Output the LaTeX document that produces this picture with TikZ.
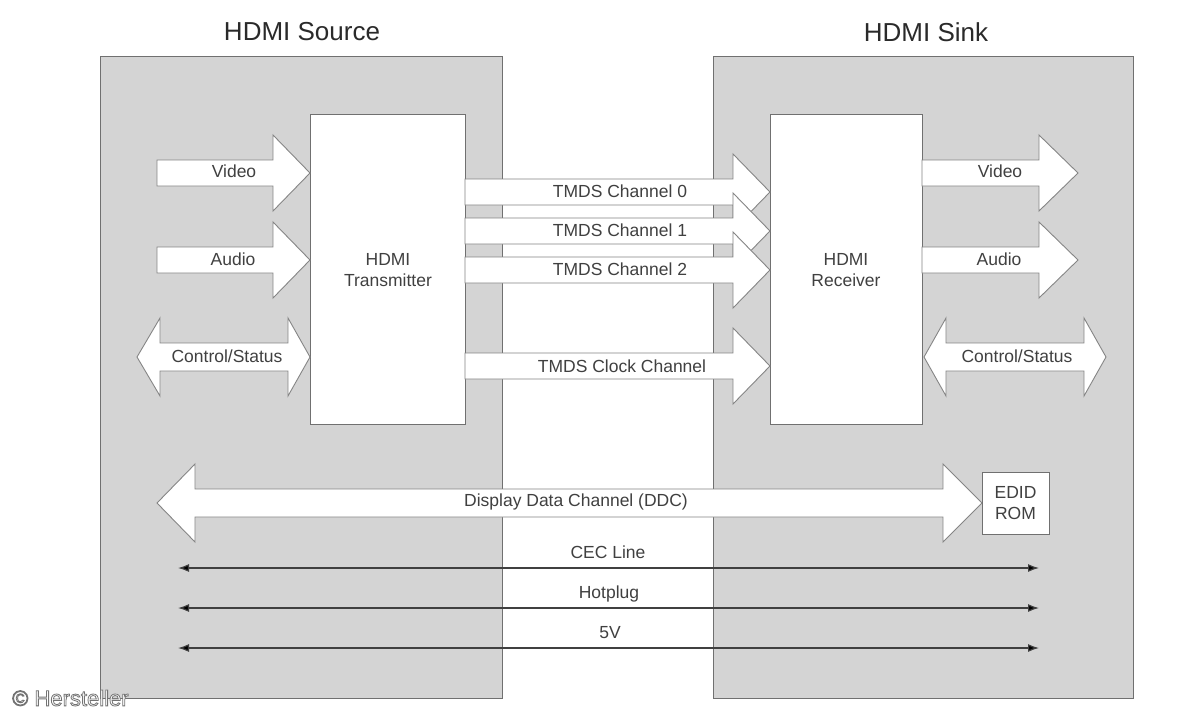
\documentclass[tikz,border=0pt]{standalone}
\usepackage{fontspec}
\setmainfont{Liberation Sans}
\usetikzlibrary{arrows.meta}
\definecolor{panel}{HTML}{D4D4D4}
\definecolor{edge}{HTML}{707070}
\definecolor{arredge}{HTML}{858585}
\definecolor{txt}{HTML}{404040}
\definecolor{ttl}{HTML}{2A2A2A}
\newcommand{\rfat}[4]{\draw[fat] (#1,#4-13) -- (#2,#4-13) -- (#2,#4-38) -- (#3,#4) -- (#2,#4+38) -- (#2,#4+13) -- (#1,#4+13) -- cycle;}
\newcommand{\dfat}[5]{\draw[fat] (#1,#5) -- (#2,#5-39) -- (#2,#5-14) -- (#3,#5-14) -- (#3,#5-39) -- (#4,#5) -- (#3,#5+39) -- (#3,#5+14) -- (#2,#5+14) -- (#2,#5+39) -- cycle;}
\begin{document}
\begin{tikzpicture}[x=1pt,y=-1pt,
  panelbox/.style={draw=edge,fill=panel,line width=1pt},
  chip/.style={draw=edge,fill=white,line width=1pt},
  fat/.style={draw=arredge,fill=white,line width=0.9pt,line join=miter},
  lbl/.style={text=txt,font=\fontsize{17.5}{17.5}\selectfont,inner sep=0pt,anchor=center},
  ttlf/.style={text=ttl,font=\fontsize{26}{26}\selectfont,inner sep=0pt},
  wmf/.style={font=\fontsize{22}{22}\selectfont,inner sep=0pt,anchor=west},
  thin/.style={draw=black!75,line width=1.2pt,{Latex[length=11pt,width=8pt,fill=black]}-{Latex[length=11pt,width=8pt,fill=black]}}]
\useasboundingbox (0,0) rectangle (1200,720);
\fill[white] (0,0) rectangle (1200,720);
% panels
\draw[panelbox] (100,56) rectangle (502,698);
\draw[panelbox] (713,56) rectangle (1133,698);
\node[ttlf] (tsrc) at (302,32) {HDMI Source};
\node[ttlf] (tsnk) at (926,32) {HDMI Sink};
% chips
\draw[chip] (310,114) rectangle (465,424);
\draw[chip] (770,114) rectangle (922,424);
\node[lbl,align=center] (tx) at (388,270) {HDMI\\[4pt]Transmitter};
\node[lbl,align=center] (rx) at (846,270) {HDMI\\[4pt]Receiver};
% left inputs
\rfat{157}{273}{310}{173}
\rfat{157}{273}{310}{260}
\dfat{137}{160}{288}{310}{357}
\node[lbl] (lv) at (234,171) {Video};
\node[lbl] (la) at (233,259) {Audio};
\node[lbl] (lc) at (227,356) {Control/Status};
% right outputs
\rfat{922}{1039}{1078}{173}
\rfat{922}{1039}{1078}{260}
\dfat{924}{946}{1084}{1106}{357}
\node[lbl] (rv) at (1000,171) {Video};
\node[lbl] (ra) at (999,259) {Audio};
\node[lbl] (rc) at (1017,356) {Control/Status};
% TMDS channels
\rfat{465}{733}{770}{192}
\node[lbl] (c0) at (620,191) {TMDS Channel 0};
\rfat{465}{733}{770}{231}
\node[lbl] (c1) at (620,230) {TMDS Channel 1};
\rfat{465}{733}{770}{270}
\node[lbl] (c2) at (620,269) {TMDS Channel 2};
\rfat{465}{733}{770}{366}
\node[lbl] (ck) at (622,366) {TMDS Clock Channel};
% DDC
\dfat{157}{195}{943}{982}{503}
\node[lbl] (ddc) at (576,502) {Display Data Channel (DDC)};
\draw[chip] (982,472) rectangle (1049,534);
\node[lbl,align=center] (edid) at (1015.5,503) {EDID\\[4pt]ROM};
% thin lines
\coordinate (l1) at (178,568); \coordinate (r1) at (1039,568);
\coordinate (l2) at (178,608); \coordinate (r2) at (1039,608);
\coordinate (l3) at (178,648); \coordinate (r3) at (1039,648);
\draw[thin] (l1) -- (r1);
\draw[thin] (l2) -- (r2);
\draw[thin] (l3) -- (r3);
\node[lbl] (cec) at (608,552) {CEC Line};
\node[lbl] (hp) at (609,594) {Hotplug};
\node[lbl] (fv) at (610,633) {5V};
% watermark (white fill with soft dark outline)
\node[wmf,text=white] (wm) at (12,698) {\special{pdf:literal 2 Tr 0.8 w 0.45 G}© Hersteller\special{pdf:literal 0 Tr}};
\end{tikzpicture}
\end{document}
